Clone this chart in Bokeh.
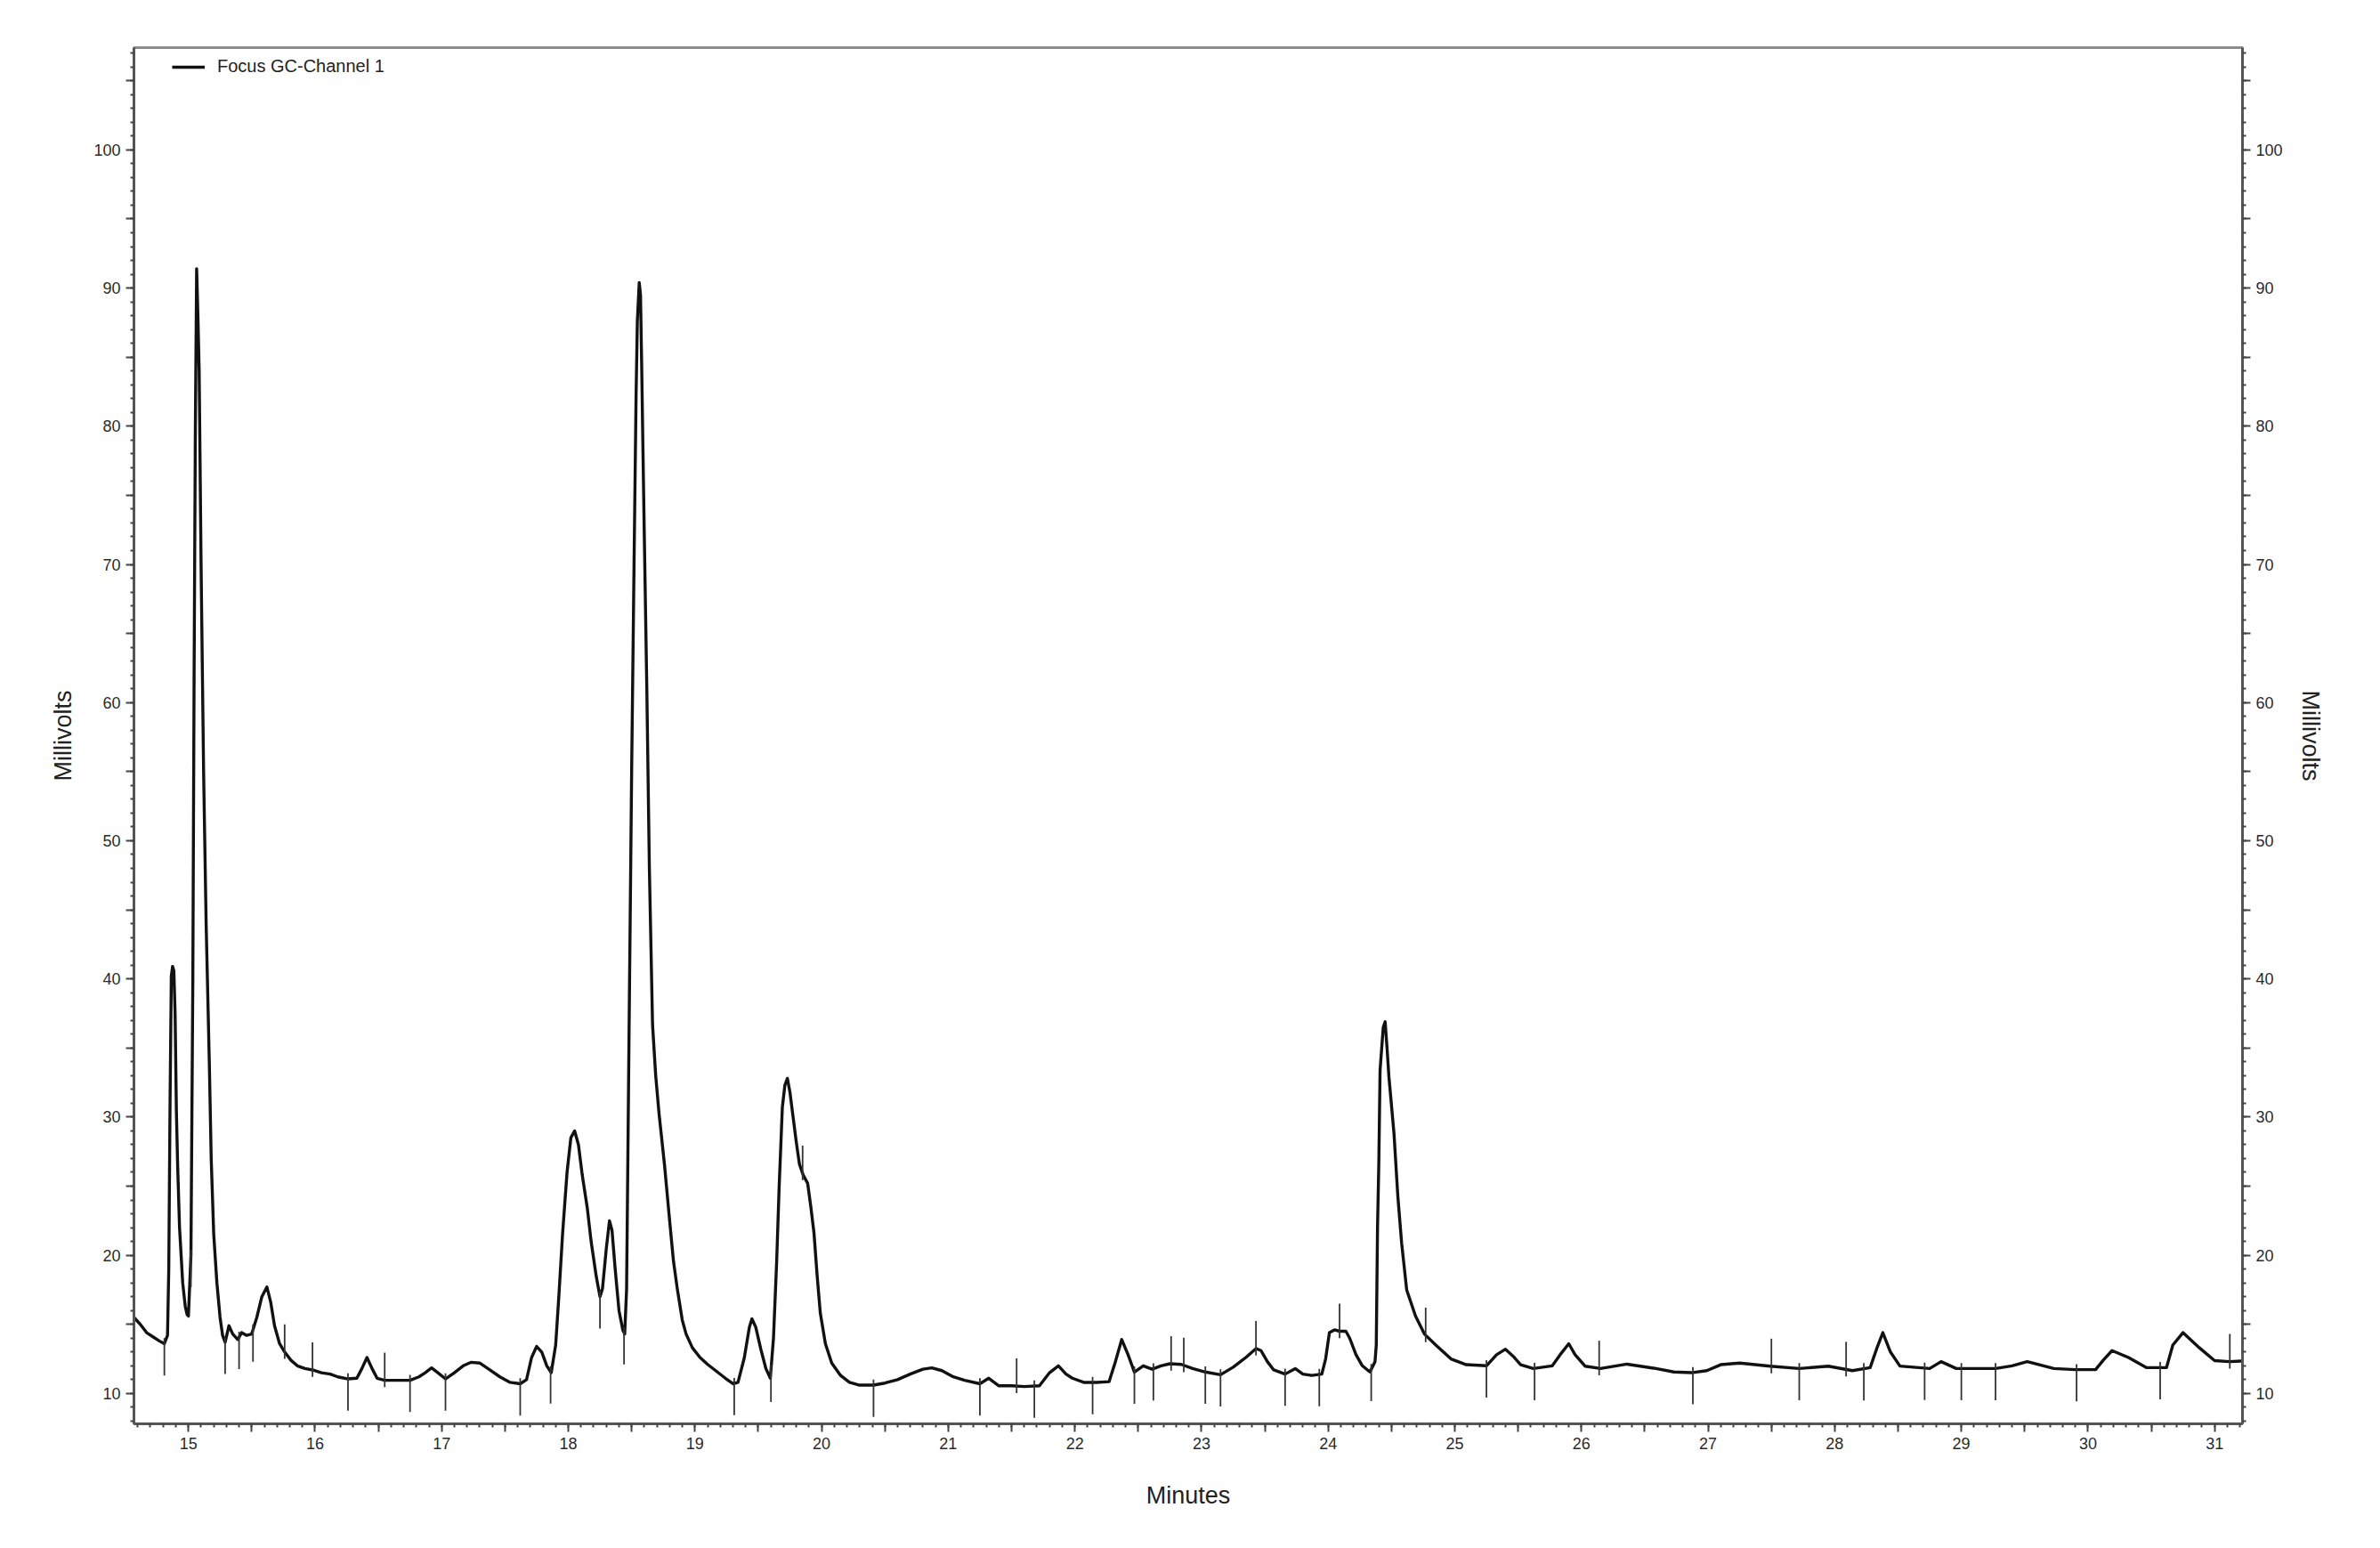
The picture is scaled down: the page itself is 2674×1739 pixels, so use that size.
import numpy as np
from bokeh.plotting import figure
from bokeh.models import (LinearAxis, FixedTicker, CustomJSTickFormatter, Range1d,
                          Legend, LegendItem, ColumnDataSource)
from bokeh.embed import file_html
from bokeh.resources import INLINE

# ---------------- data ----------------
series_name = "Focus GC-Channel 1"
x_label = "Minutes"
y_label = "Millivolts"

time_min = [
    14.57, 14.62, 14.67, 14.72, 14.77, 14.81, 14.835, 14.845, 14.855, 14.865,
    14.875, 14.885, 14.895, 14.905, 14.915, 14.93, 14.955, 14.975, 14.99, 15.00,
    15.02, 15.035, 15.045, 15.055, 15.065, 15.075, 15.085, 15.10, 15.12, 15.14,
    15.165, 15.18, 15.20, 15.225, 15.25, 15.27, 15.29, 15.32, 15.35, 15.39,
    15.42, 15.46, 15.50, 15.54, 15.58, 15.62, 15.65, 15.68, 15.72, 15.76,
    15.81, 15.86, 15.92, 15.98, 16.05, 16.12, 16.18, 16.26, 16.33, 16.37,
    16.41, 16.45, 16.49, 16.55, 16.65, 16.75, 16.82, 16.87, 16.92, 16.97,
    17.03, 17.10, 17.17, 17.23, 17.30, 17.38, 17.46, 17.54, 17.62, 17.67,
    17.71, 17.75, 17.79, 17.83, 17.865, 17.90, 17.925, 17.955, 17.99, 18.02,
    18.05, 18.08, 18.11, 18.15, 18.18, 18.22, 18.25, 18.27, 18.30, 18.325,
    18.345, 18.37, 18.40, 18.43, 18.445, 18.46, 18.467, 18.48, 18.50, 18.52,
    18.535, 18.545, 18.56, 18.57, 18.58, 18.59, 18.60, 18.62, 18.64, 18.665,
    18.69, 18.717, 18.76, 18.80, 18.83, 18.86, 18.90, 18.93, 18.98, 19.04,
    19.10, 19.17, 19.24, 19.30, 19.34, 19.39, 19.43, 19.45, 19.48, 19.52,
    19.56, 19.595, 19.62, 19.645, 19.665, 19.69, 19.71, 19.73, 19.75, 19.775,
    19.80, 19.825, 19.855, 19.89, 19.915, 19.94, 19.965, 19.99, 20.03, 20.08,
    20.15, 20.22, 20.30, 20.41, 20.50, 20.60, 20.70, 20.80, 20.87, 20.95,
    21.04, 21.13, 21.25, 21.32, 21.40, 21.50, 21.60, 21.72, 21.80, 21.87,
    21.93, 21.98, 22.07, 22.17, 22.27, 22.32, 22.37, 22.42, 22.47, 22.54,
    22.61, 22.68, 22.75, 22.84, 22.93, 23.03, 23.15, 23.25, 23.35, 23.43,
    23.47, 23.52, 23.57, 23.66, 23.74, 23.80, 23.87, 23.95, 23.98, 24.01,
    24.05, 24.09, 24.14, 24.17, 24.22, 24.27, 24.33, 24.37, 24.38, 24.39,
    24.40, 24.41, 24.435, 24.45, 24.465, 24.48, 24.52, 24.55, 24.58, 24.62,
    24.69, 24.76, 24.85, 24.97, 25.09, 25.25, 25.33, 25.40, 25.46, 25.52,
    25.62, 25.77, 25.84, 25.90, 25.95, 26.03, 26.15, 26.36, 26.57, 26.73,
    26.87, 26.99, 27.10, 27.25, 27.49, 27.72, 27.95, 28.14, 28.28, 28.33,
    28.38, 28.44, 28.515, 28.75, 28.84, 28.96, 29.27, 29.40, 29.52, 29.73,
    29.90, 30.06, 30.12, 30.19, 30.32, 30.46, 30.62, 30.67, 30.75, 30.88,
    31.00, 31.115, 31.21,
]

signal_mv = [
    15.5, 15.0, 14.4, 14.1, 13.8, 13.6, 14.2, 19.0, 31.0, 40.2,
    40.9, 40.6, 37.5, 30.5, 26.5, 22.0, 18.0, 16.3, 15.7, 15.6,
    20.0, 40.0, 62.0, 80.0, 91.4, 88.0, 84.0, 70.0, 55.0, 44.0,
    34.0, 27.0, 21.5, 18.0, 15.5, 14.2, 13.7, 14.9, 14.3, 13.9,
    14.4, 14.2, 14.3, 15.5, 17.0, 17.7, 16.6, 14.9, 13.6, 13.0,
    12.4, 12.0, 11.8, 11.7, 11.5, 11.4, 11.2, 11.05, 11.1, 11.8,
    12.6, 11.8, 11.1, 10.95, 10.95, 10.95, 11.2, 11.5, 11.85, 11.5,
    11.05, 11.5, 12.0, 12.25, 12.2, 11.7, 11.2, 10.8, 10.7, 11.0,
    12.6, 13.4, 13.0, 12.0, 11.5, 13.5, 17.0, 21.6, 26.0, 28.5,
    29.0, 28.0, 25.8, 23.4, 21.0, 18.5, 17.0, 17.6, 20.5, 22.5,
    21.8, 19.0, 16.0, 14.6, 14.3, 17.5, 24.0, 36.5, 55.0, 70.8,
    82.2, 87.6, 90.4, 89.5, 84.0, 77.9, 72.1, 60.9, 48.0, 36.7,
    33.0, 30.2, 26.5, 22.5, 19.6, 17.6, 15.3, 14.3, 13.3, 12.6,
    12.1, 11.6, 11.1, 10.7, 10.8, 12.6, 14.8, 15.4, 14.8, 13.2,
    11.8, 11.1, 14.0, 19.5, 25.0, 30.7, 32.3, 32.8, 31.8, 30.0,
    28.2, 26.6, 25.8, 25.2, 23.5, 21.6, 18.5, 15.8, 13.6, 12.2,
    11.3, 10.8, 10.6, 10.6, 10.75, 11.0, 11.4, 11.75, 11.85, 11.65,
    11.2, 10.95, 10.7, 11.1, 10.55, 10.55, 10.5, 10.55, 11.5, 12.0,
    11.4, 11.1, 10.8, 10.8, 10.85, 12.3, 13.9, 12.8, 11.55, 12.0,
    11.75, 12.0, 12.15, 12.1, 11.8, 11.55, 11.35, 11.9, 12.6, 13.25,
    13.1, 12.3, 11.7, 11.4, 11.8, 11.4, 11.3, 11.4, 12.5, 14.4,
    14.6, 14.5, 14.5, 14.0, 12.8, 12.0, 11.55, 12.3, 13.5, 22.1,
    26.6, 33.4, 36.5, 36.9, 35.0, 32.9, 28.8, 24.3, 20.9, 17.5,
    15.6, 14.3, 13.5, 12.5, 12.08, 12.0, 12.8, 13.2, 12.7, 12.08,
    11.8, 12.0, 12.9, 13.6, 12.8, 11.97, 11.8, 12.12, 11.83, 11.55,
    11.5, 11.65, 12.08, 12.2, 11.97, 11.8, 11.97, 11.65, 11.87, 13.2,
    14.4, 13.0, 11.98, 11.8, 12.3, 11.8, 11.8, 12.0, 12.3, 11.8,
    11.72, 11.72, 12.4, 13.1, 12.6, 11.87, 11.87, 13.5, 14.4, 13.3,
    12.37, 12.3, 12.34,
]

# integration event marks (retention times) drawn by the data system
marks_below_min = [
    14.81, 15.02, 15.29, 15.40, 15.51, 16.26, 16.75, 17.03, 17.62, 17.86,
    18.25, 18.44, 19.31, 19.60, 20.41, 21.25, 21.68, 22.14, 22.47, 22.62,
    23.03, 23.15, 23.66, 23.93, 24.34, 25.25, 25.63, 26.88, 27.72, 28.23,
    28.71, 29.00, 29.27, 29.91, 30.57,
]
marks_above_min = [
    15.76, 15.98, 16.55, 19.85, 21.54, 22.76, 22.86, 23.43, 24.09, 24.77,
    26.14, 27.50, 28.09, 31.12,
]

x_major_ticks = list(range(15, 32))
x_tick_labels = [str(v) for v in x_major_ticks]
y_major_ticks = [10, 20, 30, 40, 50, 60, 70, 80, 90, 100]
y_tick_labels = [str(v) for v in y_major_ticks]

# ---------------- figure ----------------
FONT = "Liberation Sans"

p = figure(frame_width=2369, frame_height=1546,
           x_range=Range1d(14.57, 31.22), y_range=Range1d(7.8, 107.4),
           x_axis_type=None, y_axis_type=None,
           output_backend="svg", toolbar_location=None,
           min_border_left=150, min_border_right=147,
           min_border_top=53, min_border_bottom=131,
           background_fill_color="white", border_fill_color="white")
p.outline_line_color = "#8c8c8c"
p.outline_line_width = 3

# tickers: half steps get tick marks, whole steps get labels
x_ticks_all = [round(v, 1) for v in np.arange(15.0, 31.01, 0.5)]
x_minor = [round(v, 1) for v in np.arange(14.6, 31.21, 0.1)]
y_ticks_all = list(range(10, 106, 5))
y_minor = list(range(8, 108))

LABEL_JS = """
    for (let i = 0; i < tv.length; i++) {
        if (Math.abs(tv[i] - tick) < 1e-6) { return tl[i]; }
    }
    return '';
"""
fmt_x = CustomJSTickFormatter(args=dict(tv=x_major_ticks, tl=x_tick_labels),
                              code=LABEL_JS)
fmt_y = CustomJSTickFormatter(args=dict(tv=y_major_ticks, tl=y_tick_labels),
                              code=LABEL_JS)


def style_axis(ax):
    ax.axis_line_color = "#555555"
    ax.axis_line_width = 3
    ax.major_tick_line_color = "#444444"
    ax.major_tick_line_width = 2
    ax.major_tick_in = 0
    ax.major_tick_out = 9
    ax.minor_tick_line_color = "#444444"
    ax.minor_tick_line_width = 2
    ax.minor_tick_in = 0
    ax.minor_tick_out = 4
    ax.major_label_text_font = FONT
    ax.major_label_text_font_size = "18px"
    ax.major_label_text_color = "#2a2a2a"
    ax.major_label_standoff = 6
    ax.axis_label_text_font = FONT
    ax.axis_label_text_font_size = "27px"
    ax.axis_label_text_font_style = "normal"
    ax.axis_label_text_color = "#222222"


xaxis = LinearAxis(ticker=FixedTicker(ticks=x_ticks_all, minor_ticks=x_minor),
                   formatter=fmt_x, axis_label=x_label)
style_axis(xaxis)
xaxis.axis_label_standoff = 34
p.add_layout(xaxis, "below")

yaxis_l = LinearAxis(ticker=FixedTicker(ticks=y_ticks_all, minor_ticks=y_minor),
                     formatter=fmt_y, axis_label=y_label)
style_axis(yaxis_l)
yaxis_l.axis_label_standoff = 16
p.add_layout(yaxis_l, "left")

yaxis_r = LinearAxis(ticker=FixedTicker(ticks=y_ticks_all, minor_ticks=y_minor),
                     formatter=fmt_y, axis_label=y_label)
style_axis(yaxis_r)
yaxis_r.axis_label_standoff = 13
p.add_layout(yaxis_r, "right")

# ---------------- glyphs ----------------
src = ColumnDataSource(dict(t=time_min, v=signal_mv))
line_r = p.line("t", "v", source=src, line_color="#111111", line_width=3.4,
                line_join="round")

t_arr = np.array(time_min)
v_arr = np.array(signal_mv)
mb = np.array(marks_below_min)
ma = np.array(marks_above_min)
vb = np.interp(mb, t_arr, v_arr)
va = np.interp(ma, t_arr, v_arr)
p.segment(x0=mb, y0=vb - 2.3, x1=mb, y1=vb + 0.4, line_color="#333333", line_width=1.8)
p.segment(x0=ma, y0=va - 0.5, x1=ma, y1=va + 2.0, line_color="#333333", line_width=1.8)

legend = Legend(items=[LegendItem(label=series_name, renderers=[line_r])],
                location=(43, 1513), glyph_width=37, glyph_height=20,
                label_standoff=14, padding=0, margin=0, spacing=0,
                border_line_alpha=0, background_fill_alpha=0,
                label_text_font=FONT, label_text_font_size="20px",
                label_text_color="#222222")
p.add_layout(legend)

open("out.html", "w").write(file_html(p, INLINE))
